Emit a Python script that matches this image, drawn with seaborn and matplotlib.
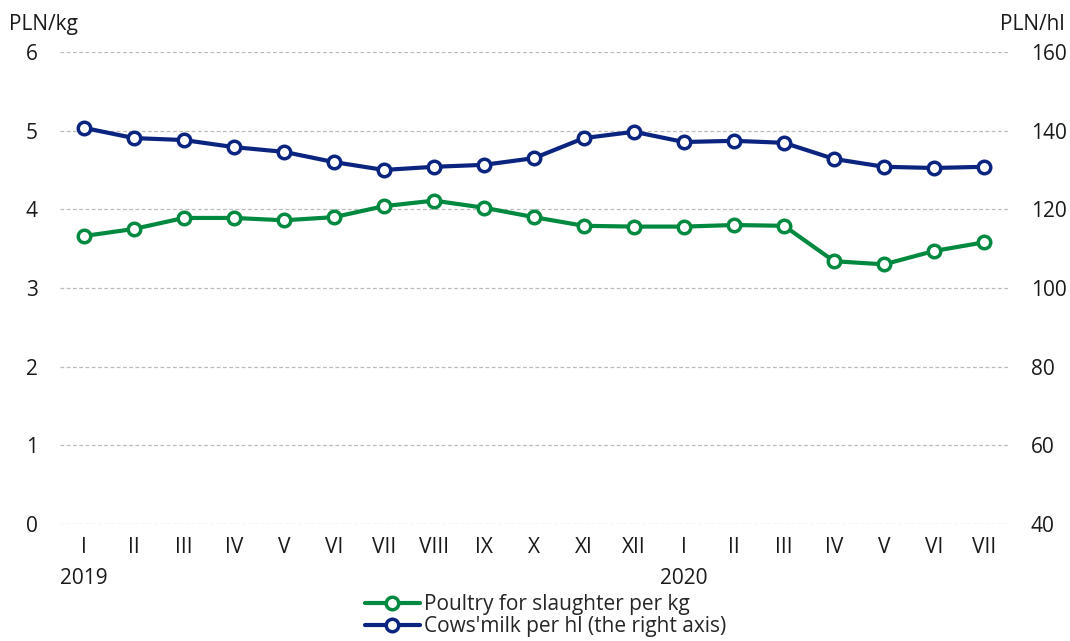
import pandas as pd
import numpy as np
import matplotlib.pyplot as plt
import seaborn as sns

# Dane
months = ['I', 'II', 'III', 'IV', 'V', 'VI', 'VII', 'VIII', 'IX', 'X', 'XI', 'XII',
          'I', 'II', 'III', 'IV', 'V', 'VI', 'VII']
poultry = [3.66, 3.75, 3.89, 3.89, 3.86, 3.90, 4.04, 4.11, 4.02, 3.90, 3.79, 3.78,
           3.78, 3.80, 3.79, 3.34, 3.30, 3.47, 3.58]
milk = [140.7, 138.1, 137.6, 135.8, 134.6, 132.0, 130.0, 130.8, 131.3, 133.0, 138.1, 139.7,
        137.1, 137.4, 136.9, 132.8, 130.8, 130.5, 130.8]

green = '#00893f'
blue = '#0a2480'
fs = 15

sns.set_style('white')
plt.rcParams['font.family'] = ['Open Sans', 'DejaVu Sans']

df = pd.DataFrame({'idx': np.arange(len(months)), 'poultry': poultry, 'milk': milk})

fig = plt.figure(figsize=(10.7, 6.41), dpi=100)
ax = fig.add_axes([0.056, 0.1825, 0.888, 0.7365])
ax2 = ax.twinx()

sns.lineplot(data=df, x='idx', y='poultry', ax=ax, color=green, lw=3,
             marker='o', markersize=9, markerfacecolor='white',
             markeredgecolor=green, markeredgewidth=2.5, label='Poultry for slaughter per kg',
             legend=False)
sns.lineplot(data=df, x='idx', y='milk', ax=ax2, color=blue, lw=3,
             marker='o', markersize=9, markerfacecolor='white',
             markeredgecolor=blue, markeredgewidth=2.5, label="Cows'milk per hl (the right axis)",
             legend=False)

ax.set_ylim(0, 6)
ax2.set_ylim(40, 160)
ax.set_xlim(-0.48, 18.52)
ax.set_yticks(range(0, 7))
ax2.set_yticks(range(40, 161, 20))
ax.set_xticks(df['idx'])
ax.set_xticklabels(months)
ax.set_xlabel('')
ax.set_ylabel('')
ax2.set_ylabel('')

ax.grid(axis='y', color='#bbbbbb', linestyle=(0, (3, 2)), linewidth=0.9)
for a in (ax, ax2):
    for s in a.spines.values():
        s.set_visible(False)
    a.tick_params(length=0, labelsize=fs, colors='#1a1a1a')
ax.tick_params(axis='y', pad=16)
ax2.tick_params(axis='y', pad=15)
ax.tick_params(axis='x', pad=9)

fig.text(0.008, 0.953, 'PLN/kg', fontsize=fs, color='#1a1a1a')
fig.text(0.995, 0.953, 'PLN/hl', fontsize=fs, color='#1a1a1a', ha='right')
ax.text(0, -0.115, '2019', transform=ax.get_xaxis_transform(), fontsize=fs,
        ha='center', va='center', color='#1a1a1a')
ax.text(12, -0.115, '2020', transform=ax.get_xaxis_transform(), fontsize=fs,
        ha='center', va='center', color='#1a1a1a')

h1, l1 = ax.get_legend_handles_labels()
h2, l2 = ax2.get_legend_handles_labels()
fig.legend(h1 + h2, l1 + l2, loc='lower center', bbox_to_anchor=(0.51, -0.014),
           frameon=False, fontsize=fs, handlelength=2.6, handletextpad=0.2,
           labelspacing=0.05, borderaxespad=0.2)

fig.savefig('out.png', dpi=100)
